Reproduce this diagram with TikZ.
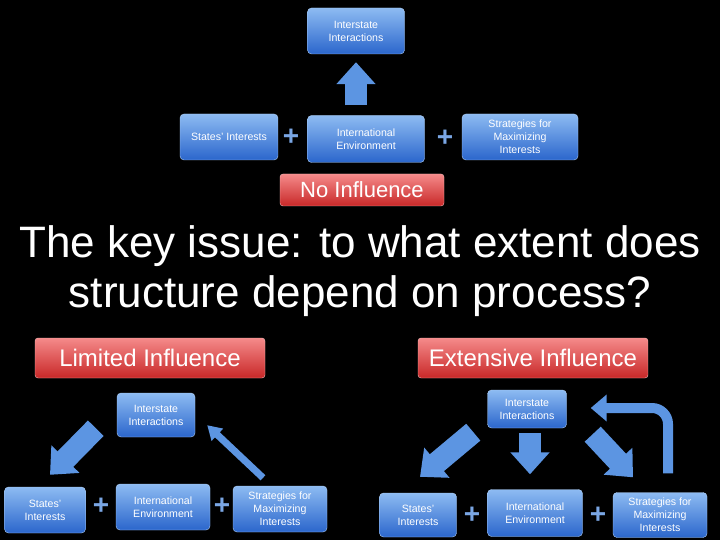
\documentclass[tikz,border=0pt]{standalone}
\usepackage{fontspec}
\setmainfont{Liberation Sans}
\usepackage{xcolor}
\usepackage{tikz}
\usetikzlibrary{arrows.meta,positioning,calc}

\definecolor{boxtop}{HTML}{8DBBF2}
\definecolor{boxbot}{HTML}{2B66CC}
\definecolor{arrowblue}{HTML}{5C95E2}
\definecolor{plusblue}{HTML}{7AA6E4}
\definecolor{redtop}{HTML}{F58A8A}
\definecolor{redbot}{HTML}{C82828}

\begin{document}
\begin{tikzpicture}[
    x=1pt, y=-1pt,
    box/.style={rectangle, rounded corners=4pt, draw=boxtop!70!white, line width=0.4pt,
        top color=boxtop, bottom color=boxbot, text=white, align=center,
        font=\fontsize{10.6}{13}\selectfont, inner sep=2pt},
    label/.style={rectangle, rounded corners=3pt, draw=redtop!60!white, line width=0.4pt,
        top color=redtop, bottom color=redbot, text=white, align=center, inner sep=2pt},
    plus/.style={text=plusblue, font=\fontsize{28}{28}\bfseries\selectfont, inner sep=0pt},
    bigarrow/.style={draw=arrowblue, line width=22pt, -{Triangle[width=38pt,length=22pt]}},
    thinarrow/.style={draw=arrowblue, line width=7pt, -{Triangle[width=16pt,length=14pt]}},
    bendarrow/.style={draw=arrowblue, line width=10pt, rounded corners=16pt, -{Triangle[width=26pt,length=16pt]}}
    ]

    % Hintergrund
    \fill[black] (0,0) rectangle (720,540);

    % Oben: keine Wirkung
    \node[box, minimum width=97pt, minimum height=46pt] (topInter) at (356,31) {Interstate\\Interactions};
    \node[box, minimum width=98pt, minimum height=46pt] (topStates) at (229,137) {States' Interests};
    \node[box, minimum width=117pt, minimum height=47pt] (topEnv) at (366,139) {International\\Environment};
    \node[box, minimum width=116pt, minimum height=46pt] (topStrat) at (520,137) {Strategies for\\Maximizing\\Interests};
    \node[plus] (topPlusA) at (291,137) {+};
    \node[plus] (topPlusB) at (445,138) {+};
    \node[label, minimum width=164pt, minimum height=32pt, font=\fontsize{22}{22}\selectfont] (noInfl) at (362,190) {No Influence};

    \draw[bigarrow] ([shift={(-10,-10)}]topEnv.north) -- ([shift={(0,8)}]topInter.south);

    % Titel
    \node[text=white, align=center, font=\fontsize{44}{50}\selectfont] (title) at (360,271)
        {The key issue: to what extent does\\structure depend on process?};

    % Unten links: begrenzte Wirkung
    \node[label, minimum width=230pt, minimum height=40pt, font=\fontsize{24}{24}\selectfont] (limInfl) at (150,358) {Limited Influence};
    \node[box, minimum width=78pt, minimum height=44pt] (liInter) at (156,415) {Interstate\\Interactions};
    \node[box, minimum width=81pt, minimum height=46pt] (liStates) at (45,510) {States'\\Interests};
    \node[box, minimum width=94pt, minimum height=46pt] (liEnv) at (163,507) {International\\Environment};
    \node[box, minimum width=94pt, minimum height=46pt] (liStrat) at (280,509) {Strategies for\\Maximizing\\Interests};
    \node[plus] (liPlusA) at (101,506) {+};
    \node[plus] (liPlusB) at (222,506) {+};

    \draw[bigarrow] ([shift={(-21,-9)}]liInter.south west) -- ([shift={(5,-12)}]liStates.north);
    \draw[thinarrow] ([shift={(-17,-8)}]liStrat.north) -- ([shift={(12,-12)}]liInter.south east);

    % Unten rechts: starke Wirkung
    \node[label, minimum width=230pt, minimum height=40pt, font=\fontsize{24}{24}\selectfont] (extInfl) at (533,358) {Extensive Influence};
    \node[box, minimum width=79pt, minimum height=38pt] (exInter) at (527,409) {Interstate\\Interactions};
    \node[box, minimum width=77pt, minimum height=44pt] (exStates) at (418,515) {States'\\Interests};
    \node[box, minimum width=95pt, minimum height=47pt] (exEnv) at (535,513) {International\\Environment};
    \node[box, minimum width=94pt, minimum height=45pt] (exStrat) at (660,515) {Strategies for\\Maximizing\\Interests};
    \node[plus] (exPlusA) at (472,515) {+};
    \node[plus] (exPlusB) at (598,515) {+};

    \draw[bigarrow] ([shift={(-14,4)}]exInter.south west) -- ([shift={(2,-16)}]exStates.north);
    \draw[bigarrow] ([shift={(3,5)}]exInter.south) -- ([shift={(-5,-15)}]exEnv.north);
    \draw[bigarrow] ([shift={(26,6)}]exInter.south east) -- ([shift={(-27,-15)}]exStrat.north);
    \draw[bendarrow] ([shift={(8,-19)}]exStrat.north) |- ([shift={(24,-1)}]exInter.east);

\end{tikzpicture}
\end{document}
